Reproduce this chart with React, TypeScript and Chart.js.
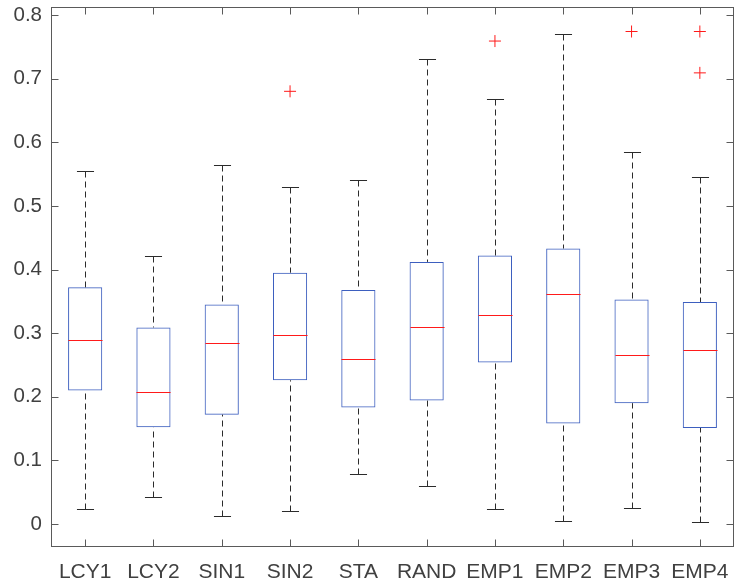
import { useEffect, useRef } from 'react';
import { Chart, registerables } from 'chart.js';

Chart.register(...registerables);

const categories = ['LCY1', 'LCY2', 'SIN1', 'SIN2', 'STA', 'RAND', 'EMP1', 'EMP2', 'EMP3', 'EMP4'];
const whiskerLow = [0.023, 0.043, 0.012, 0.021, 0.078, 0.060, 0.024, 0.005, 0.026, 0.003];
const q1 = [0.210, 0.152, 0.172, 0.226, 0.183, 0.194, 0.254, 0.158, 0.190, 0.151];
const medians = [0.290, 0.207, 0.285, 0.297, 0.259, 0.310, 0.328, 0.361, 0.266, 0.274];
const q3 = [0.372, 0.309, 0.345, 0.395, 0.368, 0.412, 0.422, 0.433, 0.353, 0.349];
const whiskerHigh = [0.555, 0.422, 0.564, 0.529, 0.541, 0.731, 0.668, 0.770, 0.585, 0.546];
const outlierCats = ['SIN2', 'EMP1', 'EMP3', 'EMP4', 'EMP4'];
const outlierValues = [0.680, 0.759, 0.774, 0.774, 0.709];
const yTickValues = [0, 0.1, 0.2, 0.3, 0.4, 0.5, 0.6, 0.7, 0.8];

const BLUE = '#3d5fbf';
const RED = '#ff1a1a';
const WHISKER = '#2b2b2b';
const AXIS = '#5a5a5a';
const TEXT = '#404040';
const FONT = "'Liberation Sans', Arial, sans-serif";

export default function App() {
  const ref = useRef<HTMLCanvasElement>(null);

  useEffect(() => {
    document.body.style.margin = '0';
    const canvas = ref.current;
    if (!canvas) return;

    const boxParts = {
      id: 'boxParts',
      afterDatasetsDraw(chart: any) {
        const { ctx, scales } = chart;
        const xs = scales.x;
        const ys = scales.y;
        const step = xs.getPixelForValue(1) - xs.getPixelForValue(0);
        const boxHalf = step * 0.25;
        const capHalf = boxHalf / 2;
        const seg = (x1: number, y1: number, x2: number, y2: number) => {
          ctx.beginPath();
          ctx.moveTo(x1, y1);
          ctx.lineTo(x2, y2);
          ctx.stroke();
        };
        ctx.save();
        ctx.lineWidth = 1;
        categories.forEach((_, i) => {
          const px = Math.round(xs.getPixelForValue(i)) + 0.5;
          const yq1 = ys.getPixelForValue(q1[i]);
          const yq3 = ys.getPixelForValue(q3[i]);
          const ylo = Math.round(ys.getPixelForValue(whiskerLow[i])) + 0.5;
          const yhi = Math.round(ys.getPixelForValue(whiskerHigh[i])) + 0.5;
          ctx.strokeStyle = WHISKER;
          ctx.setLineDash([6, 4]);
          seg(px, yhi, px, yq3);
          seg(px, ylo, px, yq1);
          ctx.setLineDash([]);
          seg(px - capHalf, yhi, px + capHalf, yhi);
          seg(px - capHalf, ylo, px + capHalf, ylo);
          const ym = Math.round(ys.getPixelForValue(medians[i])) + 0.5;
          ctx.strokeStyle = RED;
          seg(px - boxHalf, ym, px + boxHalf, ym);
        });
        ctx.restore();
      },
      afterDraw(chart: any) {
        const { ctx, chartArea, scales } = chart;
        const { left, right, top, bottom } = chartArea;
        const L = Math.round(left) + 0.5;
        const R = Math.round(right) - 0.5;
        const T = Math.round(top) + 0.5;
        const B = Math.round(bottom) - 0.5;
        const tick = 7;
        ctx.save();
        ctx.strokeStyle = AXIS;
        ctx.lineWidth = 1;
        ctx.strokeRect(L, T, R - L, B - T);
        ctx.beginPath();
        scales.y.ticks.forEach((t: any) => {
          const py = Math.round(scales.y.getPixelForValue(t.value)) + 0.5;
          ctx.moveTo(L, py);
          ctx.lineTo(L + tick, py);
          ctx.moveTo(R, py);
          ctx.lineTo(R - tick, py);
        });
        categories.forEach((_, i) => {
          const px = Math.round(scales.x.getPixelForValue(i)) + 0.5;
          ctx.moveTo(px, B);
          ctx.lineTo(px, B - tick);
          ctx.moveTo(px, T);
          ctx.lineTo(px, T + tick);
        });
        ctx.stroke();
        ctx.restore();
      },
    };

    const chart = new Chart(canvas, {
      type: 'bar',
      data: {
        labels: categories,
        datasets: [
          {
            type: 'bar',
            data: categories.map((_, i) => [q1[i], q3[i]]) as any,
            backgroundColor: 'rgba(0,0,0,0)',
            borderColor: BLUE,
            borderWidth: 1,
            borderSkipped: false,
            barPercentage: 0.5,
            categoryPercentage: 1,
          },
          {
            type: 'scatter',
            data: outlierCats.map((c, i) => ({ x: c, y: outlierValues[i] })) as any,
            pointStyle: 'cross',
            pointRadius: 6,
            pointHoverRadius: 6,
            borderColor: RED,
            backgroundColor: RED,
            borderWidth: 1,
          },
        ],
      },
      options: {
        animation: false,
        responsive: true,
        maintainAspectRatio: false,
        events: [],
        layout: { padding: { top: 4, right: 4, left: 0, bottom: 0 } },
        plugins: { legend: { display: false }, tooltip: { enabled: false } },
        scales: {
          x: {
            type: 'category',
            offset: true,
            grid: { display: false, drawTicks: false },
            border: { display: false },
            ticks: {
              autoSkip: false,
              maxRotation: 0,
              padding: 13,
              color: TEXT,
              font: { family: FONT, size: 21 },
            },
            afterFit(s: any) {
              s.height = 41;
              s.paddingLeft = 0;
              s.paddingRight = 0;
            },
          },
          y: {
            type: 'linear',
            min: -0.036,
            max: 0.8125,
            grid: { display: false, drawTicks: false },
            border: { display: false },
            afterBuildTicks(s: any) {
              s.ticks = yTickValues.map((v) => ({ value: v }));
            },
            ticks: {
              padding: 9,
              color: TEXT,
              font: { family: FONT, size: 20.5 },
              callback: (v: any) => String(Number(Number(v).toFixed(1))),
            },
            afterFit(s: any) {
              s.width = 51;
              s.paddingTop = 0;
              s.paddingBottom = 0;
            },
          },
        },
      },
      plugins: [boxParts],
    });

    return () => chart.destroy();
  }, []);

  return (
    <div style={{ width: 741, height: 588, position: 'relative', background: '#fff' }}>
      <canvas ref={ref} />
    </div>
  );
}
